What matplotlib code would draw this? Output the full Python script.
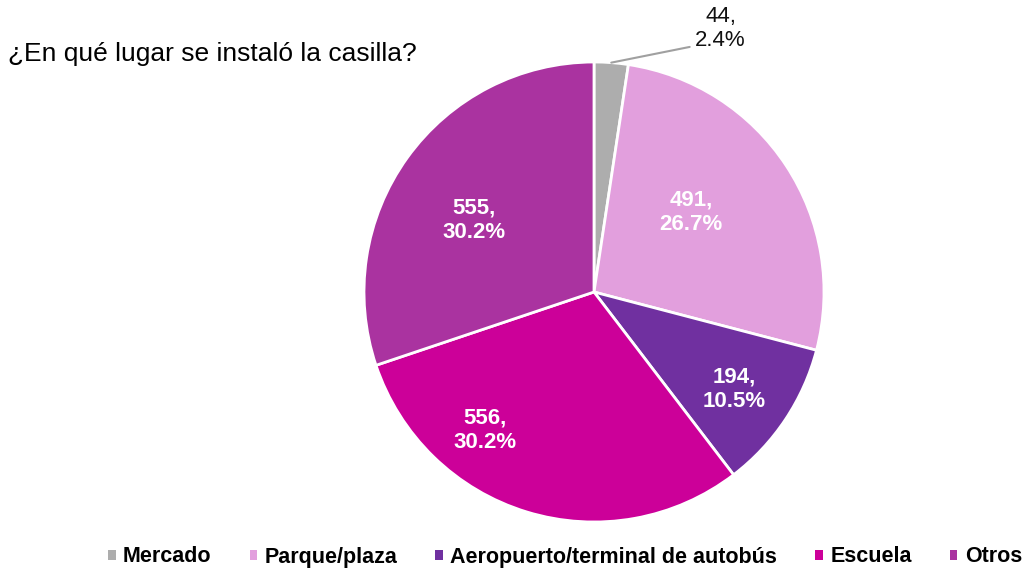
import numpy as np
import matplotlib
matplotlib.use('Agg')
import matplotlib.pyplot as plt
from matplotlib.patches import Patch

plt.rcParams['font.family'] = ['Liberation Sans', 'DejaVu Sans']

categorias = ['Mercado', 'Parque/plaza', 'Aeropuerto/terminal de autobús', 'Escuela', 'Otros']
valores = [44, 491, 194, 556, 555]
colores = ['#ADADAD', '#E29FDD', '#7030A0', '#CC0099', '#AA33A0']
# posicion de cada etiqueta (en fracciones del radio)
pos_etiqueta = [(0.55, 1.145), (0.422, 0.345), (0.609, -0.424), (-0.474, -0.60), (-0.522, 0.313)]

total = sum(valores)

fig = plt.figure(figsize=(10.26, 5.71), dpi=100)
cx, cy, r = 594, 292, 230
ax = fig.add_axes([(cx - r) / 1026, (571 - cy - r) / 571, 2 * r / 1026, 2 * r / 571])

wedges, _ = ax.pie(valores, colors=colores, startangle=90, counterclock=False,
                   radius=1, wedgeprops=dict(edgecolor='white', linewidth=2))
ax.set_xlim(-1, 1)
ax.set_ylim(-1, 1)
ax.set_aspect('equal')
ax.axis('off')

for i, w in enumerate(wedges):
    ang = np.deg2rad((w.theta1 + w.theta2) / 2)
    txt = '%d,\n%.1f%%' % (valores[i], valores[i] / total * 100)
    if i == 0:
        # etiqueta exterior con linea guia
        x0, y0 = np.cos(ang), np.sin(ang)
        ax.annotate(txt, xy=(x0, y0), xytext=pos_etiqueta[i],
                    ha='center', va='center', fontsize=16, color='#111111',
                    linespacing=1.2, annotation_clip=False,
                    arrowprops=dict(arrowstyle='-', color='#A0A0A0', lw=1.5,
                                    shrinkA=2, shrinkB=0,
                                    relpos=(0.0, 0.12)))
    else:
        x, y = pos_etiqueta[i]
        ax.text(x, y, txt, ha='center', va='center',
                fontsize=16, fontweight='bold', color='white', linespacing=1.22)

fig.text(8 / 1026, 1 - 54 / 571, '¿En qué lugar se instaló la casilla?',
         fontsize=19, ha='left', va='center')

handles = [Patch(facecolor=c, edgecolor='none') for c in colores]
leg = fig.legend(handles, categorias, loc='center', bbox_to_anchor=(565 / 1026, 1 - 557 / 571),
                 ncol=5, frameon=False, handlelength=0.35, handleheight=0.35,
                 handletextpad=0.35, columnspacing=1.76,
                 prop={'weight': 'bold', 'size': 15.5})

fig.savefig('out.png', dpi=100)
